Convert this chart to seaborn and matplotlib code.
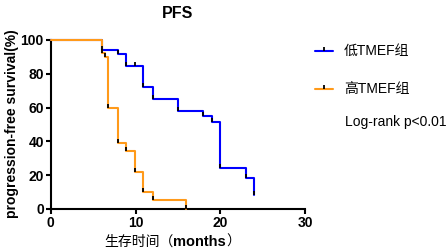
import matplotlib
matplotlib.use('Agg')
import matplotlib.pyplot as plt
import seaborn as sns
import pandas as pd
from matplotlib.path import Path
from matplotlib.lines import Line2D
from matplotlib.offsetbox import TextArea, HPacker, AnchoredOffsetbox

# ---- data ----
low_time = [0, 6, 7.9, 8.9, 10.9, 12, 15, 18, 19, 20, 23, 24]
low_surv = [100, 94.1, 91.5, 84.8, 72.0, 65.3, 58.2, 55.0, 51.3, 24.1, 18.2, 8.5]
low_censor_time = [9.93]
low_censor_surv = [84.8]
high_time = [0, 6, 6.4, 6.8, 7.9, 8.9, 9.9, 10.9, 12, 16]
high_surv = [100, 92.5, 90.1, 59.6, 39.2, 34.3, 22.1, 10.2, 5.3, 0]
group_labels = ['低TMEF组', '高TMEF组']
group_colors = ['#0000FF', '#FF9A1A']
x_ticks = [0, 10, 20, 30]
y_ticks = [0, 20, 40, 60, 80, 100]
title = 'PFS'
y_label = 'progression-free survival(%)'
x_label_cn = '生存时间（'
x_label_en = 'months'
x_label_end = '）'
stat_text = 'Log-rank p<0.01'

sns.set_theme(style='ticks')
plt.rcParams['font.family'] = ['Liberation Sans', 'Noto Sans CJK SC', 'DejaVu Sans']

W, H = 448, 250
fig = plt.figure(figsize=(W / 100, H / 100), dpi=100)
ax = fig.add_axes([50.7 / W, 1 - 209 / H, (305.3 - 50.7) / W, (209 - 40) / H])

df_low = pd.DataFrame({'t': low_time, 's': low_surv})
df_high = pd.DataFrame({'t': high_time, 's': high_surv})

sns.lineplot(data=df_low, x='t', y='s', ax=ax, color=group_colors[0], lw=1.5,
             drawstyle='steps-post', estimator=None, sort=False, clip_on=False, zorder=3)
sns.lineplot(data=df_high, x='t', y='s', ax=ax, color=group_colors[1], lw=1.5,
             drawstyle='steps-post', estimator=None, sort=False, clip_on=False, zorder=4)

tick_marker = Path([(0, 0), (0, 1)], [Path.MOVETO, Path.LINETO])
mk = dict(ls='none', marker=tick_marker, markersize=6.2, mec='black', mew=1.3,
          clip_on=False, zorder=5)
ax.plot(low_time[1:] + low_censor_time, low_surv[1:] + low_censor_surv, **mk)
ax.plot(high_time[1:], high_surv[1:], **mk)

ax.set_xlim(0, 30)
ax.set_ylim(0, 100)
ax.set_xticks(x_ticks)
ax.set_yticks(y_ticks)
ax.set_xlabel('')
ax.set_ylabel('')
for s in ['top', 'right']:
    ax.spines[s].set_visible(False)
for s in ['left', 'bottom']:
    ax.spines[s].set_linewidth(1.5)
    ax.spines[s].set_color('black')
ax.tick_params(axis='both', length=3.5, width=1.5, color='black', pad=1.5,
               labelsize=10, labelcolor='black')
for lab in ax.get_xticklabels() + ax.get_yticklabels():
    lab.set_fontweight('bold')

# title and axis labels
fig.text(178 / W, 1 - 13 / H, title, ha='center', va='center',
         fontsize=11.5, fontweight='bold', color='black')
fig.text(12.5 / W, 1 - 123.5 / H, y_label, ha='center', va='center', rotation=90,
         fontsize=10, fontweight='bold', color='black')

parts = [
    TextArea(x_label_cn, textprops=dict(family=['Noto Sans CJK SC'], fontsize=10, color='black')),
    TextArea(x_label_en, textprops=dict(family=['Liberation Sans'], fontsize=10.5,
                                        fontweight='bold', color='black')),
    TextArea(x_label_end, textprops=dict(family=['Noto Sans CJK SC'], fontsize=10, color='black')),
]
pack = HPacker(children=parts, sep=0, pad=0, align='baseline')
box = AnchoredOffsetbox(loc='center', child=pack, frameon=False, pad=0, borderpad=0,
                        bbox_to_anchor=(172 / W, 1 - 242 / H), bbox_transform=fig.transFigure)
fig.add_artist(box)

# legend (drawn manually)
for lab, col, yy in zip(group_labels, group_colors, [50.7, 89.3]):
    fy = 1 - yy / H
    fig.add_artist(Line2D([315 / W, 333 / W], [fy, fy], color=col, lw=1.5,
                          transform=fig.transFigure))
    fig.add_artist(Line2D([324 / W], [fy], transform=fig.transFigure, **{k: v for k, v in mk.items() if k != 'clip_on'}))
    fig.text(344 / W, fy, lab, ha='left', va='center', fontsize=10, color='black')
fig.text(345 / W, 1 - 121.7 / H, stat_text, ha='left', va='center', fontsize=10, color='black')

fig.savefig('out.png', dpi=100)
